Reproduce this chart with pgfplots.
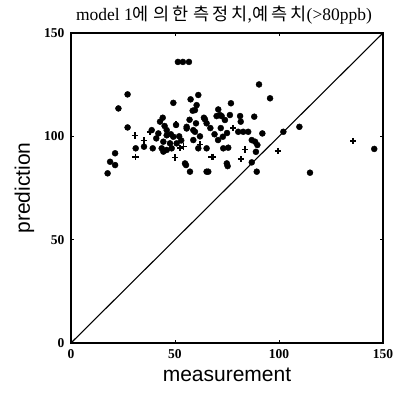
\documentclass[border=0pt]{standalone}
\usepackage{fontspec}
\setmainfont{Liberation Serif}
\setsansfont{Liberation Sans}
\newfontfamily\kr[LetterSpace=18]{Noto Sans CJK KR}
\usepackage{pgfplots}
\pgfplotsset{compat=1.18}
\begin{document}
\begin{tikzpicture}
\path[use as bounding box] (-71pt,-53pt) rectangle (325pt,343pt);
\begin{axis}[
  at={(0pt,0pt)}, anchor=south west,
  scale only axis, width=312pt, height=310pt,
  xmin=0, xmax=150, ymin=0, ymax=150,
  xtick={0,50,100,150}, ytick={0,50,100,150},
  tick align=inside, major tick length=3pt,
  axis line style={line width=1.6pt},
  tick style={line width=1pt, black},
  ticklabel style={font=\fontsize{13.5}{13.5}\selectfont\bfseries},
  /pgf/number format/assume math mode=true,
  xticklabel style={yshift=-3pt},
  yticklabel style={xshift=-3pt},
  xlabel={measurement}, ylabel={prediction},
  label style={font=\sffamily\fontsize{21}{21}\selectfont},
  xlabel style={yshift=-2pt},
  ylabel style={yshift=3pt},
  title={model 1{\kr 에} {\kr 의한} {\kr 측정치},{\kr 예측치}(>80ppb)},
  title style={font=\fontsize{17.5}{17.5}\selectfont, yshift=-1pt, xshift=-3pt},
  clip=false,
]
\addplot[black, line width=1.1pt, no marks] coordinates {(0,0) (150,150)};
\addplot[only marks, mark=*, mark size=3pt, black] coordinates {
(17.6,82.1)(18.8,87.7)(21.2,86.1)(21.2,91.8)(22.8,113.5)(27.2,120.3)(27.2,104.3)
(31.1,94.2)(35.1,95)(39.3,94.2)(44.1,109)(49.2,116.2)(51.4,136)(53.8,136)(56.7,136)
(57.5,117.9)(58.5,112.4)(61.2,120)(60.4,115.1)(59.6,112.7)(70.8,113)(71.6,110.3)
(74,107.9)(64.4,108.2)(65.2,106.3)(60.1,106.3)(55.6,103.8)(59.6,102.2)(58.8,98.2)
(61.2,94.2)(65.2,94.2)(73.2,94.2)(74.9,86.9)(65.2,82.9)(57.2,82.9)(55.3,86.1)
(42.8,107.1)(46,93.4)(70.7,98.2)(73,99.8)(75,101.6)(90.4,125.1)(95.7,118.4)
(76.9,116)(63.9,109)(70,109.8)(72.4,109.8)(76.4,110.3)(81.3,109.8)(88.1,109.5)
(81.6,107.1)(92,101.4)(80.4,102.2)(82.8,102.2)(85.2,102.2)(86.9,98.2)(88.5,97.4)
(89.6,95.8)(75.6,94.5)(88.9,92.5)(86.9,87.4)(75.3,85.6)(89.3,82.9)(102.1,102.2)
(109.8,104.6)(114.9,82.4)(145.8,93.9)(66,82.9)(38.8,103)(42,101.4)(46,100.5)
(49.2,99.8)(44.4,97.4)(47.6,96.6)(50.8,96.6)(43.6,94.2)(48.4,94.2)(44.4,92.6)
(54.8,86.9)(55.6,104.6)(58.8,103)(50.5,105.5)(62,100)(67,104)(69,101)
(46,103)(48,101)(52,100)(45,105)(41,99)(53,98)(57,108)(72,104)
};
\addplot[only marks, mark=+, mark size=3.2pt, line width=1.6pt, black] coordinates {
(30.8,100.4)(31.1,90.1)(50.5,105.8)(38,102.2)(54,95)(50,89.8)(68.4,90.1)
(52.5,94.3)(83.7,93.7)(81.6,88.9)(99.4,92.9)(135.7,97.7)(67.6,90.1)(62,96)
(78,104)(35,98)
};
\end{axis}
\end{tikzpicture}
\end{document}
